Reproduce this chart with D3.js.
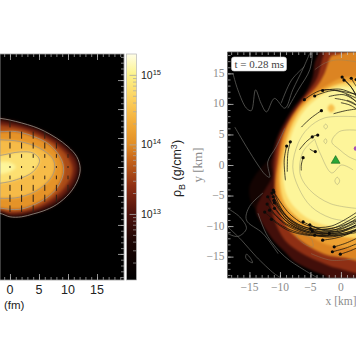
<!DOCTYPE html>
<html>
<head>
<meta charset="utf-8">
<script src="https://d3js.org/d3.v7.min.js"></script>
<style>
  html, body { margin: 0; padding: 0; background: #fff; overflow: hidden; }
  svg { display: block; }
  .domain { display: none; }
</style>
</head>
<body>
<svg id="fig" width="356" height="364"></svg>
<script>
// colormap, log10 of density (g/cm3)
const cmapLogs = [12.05, 12.6, 13.0, 13.4, 13.8, 14.0, 14.3, 14.6, 15.0, 15.3];
const cmapColors = ['#000000', '#1c0503', '#4e120c', '#8e2f14', '#c9681a', '#e28e25', '#f2ab38', '#fbcb58', '#fdf38a', '#fffee8'];
const cbarLabels = [13, 14, 15];

// left panel, x and y in fm
const leftLevels = [12.8, 13.2, 13.6, 14.05, 14.45, 14.8, 15.05];
const leftContours = [
  [[-4, 8.6], [-1.7, 8.4], [0, 8.1], [2, 7.6], [4, 7], [5.7, 6.3], [8, 5], [10, 3.5], [11.5, 1.8], [12.1, -0.2], [11.7, -2.2], [10.3, -4.5], [8, -6.5], [5.7, -7.6], [4, -8.1], [2, -8.6], [0, -8.6], [-1.7, -8], [-4, -7.8]],
  [[-4, 8.1], [-1.7, 7.9], [0, 7.6], [2, 7.1], [4, 6.5], [5.7, 5.8], [8, 4.5], [9.6, 3.1], [11, 1.5], [11.5, -0.2], [11.1, -2], [9.8, -4.2], [7.7, -6], [5.5, -7.1], [4, -7.6], [2, -8.1], [0, -8.2], [-1.7, -7.6], [-4, -7.4]],
  [[-4, 7.4], [-1.7, 7.2], [0, 7], [2, 6.6], [4, 5.9], [6, 5], [8, 3.8], [9.5, 2.4], [10.4, 1], [10.8, -0.3], [10.4, -2], [9.2, -3.8], [7.3, -5.5], [5.3, -6.7], [3, -7.5], [0, -7.8], [-1.7, -7.4], [-4, -7.1]],
  [[-4, 6.2], [-1.7, 6.1], [1.15, 6.1], [4, 5.3], [6.9, 3.8], [8.9, 1.2], [9.2, -1.1], [7.8, -4], [5.2, -6], [1.7, -7.3], [-1.7, -7.1], [-4, -6.8]],
  [[-4, 4.8], [-1.7, 4.7], [1.7, 4.4], [5.2, 3.2], [7.5, 1.2], [7.5, -1.1], [5.2, -3.7], [1.7, -5.2], [-1.7, -5.4], [-4, -5.2]],
  [[-4, 1.8], [-1.7, 2], [1.7, 2.6], [4, 2.4], [5.1, 1.2], [4, -0.8], [1.1, -2.2], [-1.7, -2.8], [-4, -2.9]],
  [[-4, 0.9], [-1.7, 0.9], [0, 0.8], [1, 0], [0, -0.8], [-1.7, -1.2], [-4, -1.2]]
];
const leftLines = [0, 3, 4, 5]; // which contours carry a grey line
const vecColumns = [0, 2, 4, 6, 8, 10];
const vecRows = [7.4, 5.5, 3.7, 1.9, 0, -1.8, -3.6, -5.4, -7.2];
const vecHalfLen = [0.5, 0.55, 0.45, 0.25, 0.1, 0.25, 0.45, 0.55, 0.5];

// right panel, x and y in km
const rightLevels = [12.45, 12.9, 13.4, 13.95, 14.2, 14.75, 15.05];
const rightContours = [
  [[-11.1, 1.1], [-15, -3.6], [-13.9, -7.4], [-11.1, -7.9]],
  [[-3, 20], [-3.5, 18.5], [-4.3, 16.7], [-4.6, 14.5], [-5.7, 12], [-7.6, 9.6], [-9.2, 7.1], [-10.6, 4.1], [-11.4, 0.3], [-11.3, -1.9], [-13.1, -5.2], [-13.9, -7.4], [-12.8, -9.8], [-11.1, -12.3], [-9.2, -14.2], [-7.6, -15.8], [-4.9, -17.2], [-2.1, -18.5], [-1.5, -20], [5, -20], [5, 20]],
  [[-2.5, 20], [-2.7, 18.5], [-3.1, 17.2], [-3.8, 14.5], [-4.9, 12.6], [-6.8, 10.1], [-8.4, 7.7], [-10.1, 4.4], [-10.9, 0.3], [-11, -3.6], [-11.4, -6.3], [-10.9, -9], [-9.2, -12.3], [-6.5, -14.4], [-3.8, -15.7], [-0.5, -16.9], [5, -17.2], [5, 20]],
  [[-1, 18], [-1.6, 17.8], [-2.7, 15], [-4, 12.8], [-6, 10.7], [-7.9, 8.2], [-9.5, 4.9], [-10.4, 0.3], [-10.8, -3.6], [-10.3, -6.8], [-8.7, -10.4], [-6, -12.8], [-2.7, -14.6], [0.6, -15.2], [5, -15.5], [5, 18]],
  [[5, 14.5], [2.5, 14.5], [0, 14.2], [-2.7, 12.8], [-5.1, 11.2], [-7.3, 8.7], [-9, 5.5], [-10.1, 0.8], [-10.4, -3], [-9.8, -6.3], [-7.9, -9], [-5.1, -11.6], [-2.1, -13.1], [2.5, -13.7], [5, -13.8]],
  [[5, 13.6], [2.5, 13.6], [0, 13.4], [-2.7, 12.3], [-4.9, 10.9], [-7, 8.5], [-8.6, 5.2], [-9.7, 0.8], [-10, -3], [-9.2, -6.3], [-7, -8.7], [-3.8, -10.7], [-0.5, -11.6], [2.5, -12], [5, -12.1]],
  [[5, 12.9], [2.5, 12.8], [0, 12.8], [-2.7, 11.7], [-5.1, 9.9], [-7, 7.5], [-8.3, 4.4], [-9.2, 0.6], [-9.4, -3], [-8.4, -5.9], [-5.8, -8.5], [-2.1, -10], [2.5, -10.6], [5, -10.7]]
];
const hotSpot = [[-1.6, 10], [-1, 9.3], [-1.6, 8.6], [-2.2, 9.3]];
const hotSpotLevel = 14.5;

const darkLines = [
  [[-17.7, 15], [-16.9, 12.3], [-15.5, 9.3], [-14.7, 8.9], [-14, 12.3], [-13.1, 10.1], [-12.2, 8.7], [-10.9, 10.9], [-9.2, 9.3], [-7.9, 12.3], [-6.2, 15.8], [-5.1, 18.3]],
  [[-6, 16.1], [-8.1, 13.9], [-9.8, 10.1]],
  [[-4.6, 18.9], [-5.1, 15.6], [-7, 12.3], [-8.7, 9.3]],
  [[-17.4, 6.2], [-15.5, 3], [-13.6, 0], [-12.4, -1.6], [-11.7, -2], [-12, 0.5], [-10.6, 3], [-9.2, 6]],
  [[-18.6, -7.1], [-16.6, -8.5], [-15.5, -10.4], [-16.9, -11.7], [-18.6, -11.2]],
  [[-18.6, -10.1], [-16.3, -12.3], [-13.9, -15], [-10.9, -17.8], [-9.8, -18.5]],
  [[-13.6, -7.9], [-12, -11.7], [-9.2, -15], [-6, -17.2], [-3.8, -18.5]],
  [[-12.8, -4.6], [-15, -6.8], [-15.5, -9], [-12.8, -11.2], [-10.3, -14.5]]
];
const darkLoops = [
  [[-15.5, -14.6], [-14.8, -15.3], [-14.5, -16], [-15, -15.8], [-15.6, -15.2]]
];
const paleLines = [
  [[-4.9, -14.5], [-1.6, -15.6], [2.5, -15.3]],
  [[-4.3, 15.6], [-2.6, 16.7], [-0.7, 17.2], [2.5, 16.9]],
  [[2.5, 7.9], [-2.7, 7.7], [-5.4, 6], [-7, 3.6], [-7.9, -0.3], [-7, -3.6], [-4.9, -6.8], [-1.6, -8.7], [2.5, -9.3]],
  [[-4.3, 4.2], [-6.2, 2.2], [-6.7, -1.4], [-5.1, -4.1], [-1.8, -6.3], [2.5, -7.1]],
  [[-4.3, 4.2], [-3.4, 1.9], [-1.5, -1.3], [0.1, 0], [2, -0.8]],
  [[2.5, 5.7], [-0.2, 5.5], [-1.5, 3.8], [-0.2, 2.5], [1.2, 1.4], [2.5, 0.8]]
];
const paleLoops = [
  [[-7.3, -11.5], [-6.2, -12.8], [-4.6, -13.4], [-5, -11.9]],
  [[-0.6, -2], [-0.2, -2.6], [-0.6, -3.2], [-1, -2.6]],
  [[-2.5, 6.7], [-2.2, 6.3], [-2.5, 5.9], [-2.8, 6.3]],
  [[-2.5, 4.3], [-2.3, 3.9], [-2.5, 3.5], [-2.8, 3.9]]
];

// tracer tails, the first point of each is the tracer itself
const tracers = [
  [[-3.2, 8.9], [-4.9, 7.7], [-6.5, 6.2]],
  [[-8.3, 3.8], [-8.7, 1.9], [-8.8, -1.1]],
  [[-8.9, 3.1], [-9.3, 0.8], [-9.1, -2.5]],
  [[-4.7, 4.6], [-5.7, 3.8], [-6.8, 2.5]],
  [[-3.8, 4.9], [-4.3, 4.8], [-4.7, 4.6]],
  [[-4.2, 2.2], [-4.6, 2.3], [-5.1, 2.6]],
  [[-6.2, 1.2], [-6.5, 0], [-6.5, -0.9]],
  [[-6, 10.7], [-3, 12.3], [2.8, 11.5]],
  [[-4.3, 11.3], [-1, 12.2], [2.8, 10.8]],
  [[-3, 12.2], [0, 12.4], [2.8, 11.3]],
  [[0.2, 14.4], [1.5, 13], [2.8, 11]],
  [[0.5, 13.9], [1.8, 12.6], [2.8, 10.5]],
  [[1.7, 14.2], [2.3, 13.2], [2.8, 12.5]],
  [[2.5, 14], [2.7, 13.5], [2.9, 13]],
  [[-11.1, -4.1], [-8.9, -8.5], [-5.1, -10.7], [-1.3, -10.9], [2.8, -9.3]],
  [[-11.3, -4.6], [-8.9, -8.9], [-5, -11], [-1, -11.2], [2.8, -10]],
  [[-12, -5.2], [-9.2, -9], [-5.1, -11.2], [-1, -11.4], [2.8, -10.6]],
  [[-10.9, -6.2], [-8.5, -9.2], [-5, -10.7], [-1, -10.6], [2.8, -8.6]],
  [[-12.1, -6.4], [-9.3, -9.6], [-5, -11.4], [-1.2, -11.6], [2.8, -11]],
  [[-10.9, -7.1], [-8.2, -9.8], [-4.8, -11], [-1, -11], [2.8, -9.8]],
  [[-12.5, -7.7], [-9.6, -10], [-6, -11.3], [-2.5, -11.6]],
  [[-11.4, -8.9], [-8.7, -10.7], [-5.5, -11.5], [-2, -11.6]],
  [[-11.1, -5.2], [-8.6, -8.6], [-5.2, -10.4], [-1.5, -10.4], [2.8, -8.2]],
  [[-11.7, -7.4], [-9, -9.6], [-5.6, -11], [-2, -11.2]],
  [[-11, -4.4], [-8.4, -8], [-5.2, -10], [-1.6, -10], [2.8, -7.6]],
  [[-11, -5.8], [-8.3, -9], [-5, -10.4], [-1.2, -10.3], [2.8, -8.9]],
  [[-6.2, -9.3], [-3, -10.6], [0, -10.4], [2.8, -9]],
  [[-5.1, -9.8], [-2.5, -10.8], [0, -10.8], [2.8, -9.7]],
  [[-5, -10.4], [-2.5, -11.2], [0.2, -11.2], [2.8, -10.4]],
  [[-4.7, -10.8], [-2.5, -11.5], [0.2, -11.4], [2.8, -10.7]],
  [[-4.3, -11.5], [-2, -11.8], [0.5, -11.4], [2.8, -10.6]],
  [[-3, -12.3], [-1, -12], [1, -11.4], [2.8, -10.4]],
  [[-1.9, -11.2], [0, -11], [2.8, -9.6]],
  [[-1.1, -13.4], [0.8, -12.8], [2.8, -11.9]],
  [[-1.4, -14.2], [0.8, -13.6], [2.8, -12.8]],
  [[-0.1, -14.6], [1.4, -14.1], [2.8, -13.5]]
];
const streaks = [
  [[-1, 10.9], [1, 10.5], [2.8, 9.6]],
  [[0, 10.2], [1.5, 9.8], [2.8, 9]],
  [[-2, 11.2], [0.5, 11.5], [2.8, 10.2]],
  [[-1.2, 8.4], [0.8, 8.9], [2.8, 9.2]],
  [[0.8, 11.6], [1.8, 11], [2.8, 10]],
  [[1, 10.6], [2, 10.2], [2.8, 9.6]]
];
const centreMark = [-0.87, 0.7];
const secondMark = [2.46, 2.7];

const xTicksLeft = [0, 5, 10, 15];
const xTicksRight = [-15, -10, -5, 0];
const yTicksRight = [-15, -10, -5, 0, 5, 10, 15];

const svg = d3.select('#fig');
const defs = svg.append('defs');
const cmap = d3.scaleLinear().domain(cmapLogs).range(cmapColors);

function blur(id, dev) {
  defs.append('filter').attr('id', id)
    .attr('color-interpolation-filters', 'sRGB')
    .attr('x', '-10%').attr('y', '-10%').attr('width', '120%').attr('height', '120%')
    .append('feGaussianBlur').attr('stdDeviation', dev);
}
blur('blurLeft', 1.6);
blur('blurRight', 0.8);
blur('soft', 0.4);

function panel(id, left, top, width, height) {
  defs.append('clipPath').attr('id', id).append('rect').attr('width', width).attr('height', height);
  return svg.append('g').attr('transform', `translate(${left}, ${top})`);
}
function inward(g, axis, scale, major, minor, majorLen, color) {
  // minor then major ticks, pointing into the frame
  g.append('g').call(axis(scale).tickValues(minor).tickSize(majorLen / 2).tickFormat(''))
    .selectAll('line').attr('stroke', color).attr('stroke-width', 0.7);
  g.append('g').call(axis(scale).tickValues(major).tickSize(majorLen).tickFormat(''))
    .selectAll('line').attr('stroke', color).attr('stroke-width', 0.8);
}

// ---- left panel ----
const leftW = 124, leftH = 226;
const xl = d3.scaleLinear().domain([-1.72, 19.65]).range([0, leftW]);
const yl = d3.scaleLinear().domain([19.5, -19.5]).range([0, leftH]);
const gl = panel('clipLeft', 0, 54, leftW, leftH);
const lineL = d3.line().x(d => xl(d[0])).y(d => yl(d[1])).curve(d3.curveCatmullRomClosed);

const plotL = gl.append('g').attr('clip-path', 'url(#clipLeft)');
plotL.append('rect').attr('width', leftW).attr('height', leftH).attr('fill', '#000');
plotL.append('g').attr('filter', 'url(#blurLeft)')
  .selectAll('path').data(leftContours).join('path')
  .attr('d', lineL)
  .attr('fill', (d, i) => cmap(leftLevels[i]));
plotL.append('g').attr('filter', 'url(#soft)')
  .selectAll('path').data(leftLines).join('path')
  .attr('d', i => lineL(leftContours[i]))
  .attr('fill', 'none')
  .attr('stroke', '#9c948a')
  .attr('stroke-width', 0.8);

const vecs = [];
vecColumns.forEach(x => vecRows.forEach((y, r) => {
  if (d3.polygonContains(leftContours[1], [x, y])) vecs.push({x: x, y: y, h: vecHalfLen[r]});
}));
plotL.append('g').attr('filter', 'url(#soft)')
  .selectAll('line').data(vecs).join('line')
  .attr('x1', d => xl(d.x)).attr('x2', d => xl(d.x))
  .attr('y1', d => yl(d.y + d.h)).attr('y2', d => yl(d.y - d.h))
  .attr('stroke', '#2e2016')
  .attr('stroke-width', 1)
  .attr('stroke-linecap', 'round');

const minorL = d3.range(-1, 20);
const majorL = [0, 5, 10, 15];
const minorY = d3.range(-19, 20);
const majorY = [-15, -10, -5, 0, 5, 10, 15];
inward(gl, d3.axisBottom, xl, majorL, minorL, 6, '#b8b8b8');
inward(gl.append('g').attr('transform', `translate(0, ${leftH})`), d3.axisTop, xl, majorL, minorL, 6, '#b8b8b8');
inward(gl.append('g').attr('transform', `translate(${leftW}, 0)`), d3.axisLeft, yl, majorY, minorY, 6, '#b8b8b8');
gl.append('rect').attr('width', leftW).attr('height', leftH)
  .attr('fill', 'none').attr('stroke', '#9a9a9a').attr('stroke-width', 0.8);

gl.selectAll('.xlab').data(xTicksLeft).join('text')
  .attr('x', d => xl(d)).attr('y', leftH + 14)
  .attr('text-anchor', 'middle')
  .style('font', '12.5px "Liberation Sans", sans-serif')
  .attr('fill', '#222')
  .text(d => d);
gl.append('text').attr('x', 4).attr('y', leftH + 28.5)
  .style('font', '11.5px "Liberation Sans", sans-serif')
  .attr('fill', '#222')
  .text('(fm)');

// ---- colour bar ----
const cbH = 226, cbW = 10;
const cb = d3.scaleLog().domain([Math.pow(10, 12.05), Math.pow(10, 15.3)]).range([cbH, 0]);
const grad = defs.append('linearGradient').attr('id', 'cbarFill')
  .attr('x1', 0).attr('x2', 0).attr('y1', 1).attr('y2', 0);
grad.selectAll('stop').data(cmapLogs).join('stop')
  .attr('offset', d => 1 - cb(Math.pow(10, d)) / cbH)
  .attr('stop-color', d => cmap(d));
const gc = svg.append('g').attr('transform', 'translate(126.5, 54)');
gc.append('rect').attr('width', cbW).attr('height', cbH).attr('fill', 'url(#cbarFill)')
  .attr('stroke', '#b5b5b5').attr('stroke-width', 0.7);
const cbMajor = cbarLabels.map(d => Math.pow(10, d));
const cbAxis = gc.append('g').attr('transform', `translate(${cbW}, 0)`);
inward(cbAxis, d3.axisLeft, cb, cbMajor, cb.ticks().filter(d => !cbMajor.includes(d)), 7, '#a8a8a8');

const cbLab = gc.selectAll('.cblab').data(cbarLabels).join('text')
  .attr('x', cbW + 4.5)
  .attr('y', d => cb(Math.pow(10, d)) + 4)
  .style('font', '10.5px "Liberation Sans", sans-serif')
  .attr('fill', '#222');
cbLab.append('tspan').text('10');
cbLab.append('tspan').attr('dy', -4).style('font-size', '7.5px').text(d => d);

const rhoLabel = svg.append('text')
  .attr('transform', 'translate(181, 197) rotate(-90)')
  .style('font', '12.5px "Liberation Sans", sans-serif')
  .attr('fill', '#222');
rhoLabel.append('tspan').text('ρ');
rhoLabel.append('tspan').attr('dy', 3.5).style('font-size', '9px').text('B');
rhoLabel.append('tspan').attr('dy', -3.5).text(' (g/cm');
rhoLabel.append('tspan').attr('dy', -4).style('font-size', '9px').text('3');
rhoLabel.append('tspan').attr('dy', 4).text(')');

// ---- right panel ----
const rightW = 130, rightH = 226;
const xr = d3.scaleLinear().domain([-18.6, 2.72]).range([0, rightW]);
const yr = d3.scaleLinear().domain([18.5, -18.5]).range([0, rightH]);
const gr = panel('clipRight', 227.5, 52, rightW, rightH);
const plotR = gr.append('g').attr('clip-path', 'url(#clipRight)');
const lineR = d3.line().x(d => xr(d[0])).y(d => yr(d[1])).curve(d3.curveCatmullRom);
const loopR = d3.line().x(d => xr(d[0])).y(d => yr(d[1])).curve(d3.curveCatmullRomClosed);

plotR.append('rect').attr('width', rightW).attr('height', rightH).attr('fill', '#000');
const fills = plotR.append('g').attr('filter', 'url(#blurRight)');
fills.selectAll('path').data(rightContours).join('path')
  .attr('d', loopR)
  .attr('fill', (d, i) => cmap(rightLevels[i]));
fills.append('path').datum(hotSpot).attr('d', loopR).attr('fill', cmap(hotSpotLevel));

const darkG = plotR.append('g').attr('filter', 'url(#soft)')
  .attr('fill', 'none').attr('stroke', '#6a6a66').attr('stroke-width', 0.7);
darkG.selectAll('.open').data(darkLines).join('path').attr('class', 'open').attr('d', lineR);
darkG.selectAll('.loop').data(darkLoops).join('path').attr('class', 'loop').attr('d', loopR);
const paleG = plotR.append('g').attr('filter', 'url(#soft)')
  .attr('fill', 'none').attr('stroke', '#8a8a70').attr('stroke-opacity', 0.55).attr('stroke-width', 0.7);
paleG.selectAll('.open').data(paleLines).join('path').attr('class', 'open').attr('d', lineR);
paleG.selectAll('.loop').data(paleLoops).join('path').attr('class', 'loop').attr('d', loopR);

const tracks = plotR.append('g').attr('filter', 'url(#soft)');
tracks.selectAll('.tail').data(tracers.concat(streaks)).join('path')
  .attr('class', 'tail')
  .attr('d', lineR)
  .attr('fill', 'none')
  .attr('stroke', '#16120c')
  .attr('stroke-opacity', 0.85)
  .attr('stroke-width', 0.9);
tracks.selectAll('circle').data(tracers).join('circle')
  .attr('cx', d => xr(d[0][0]))
  .attr('cy', d => yr(d[0][1]))
  .attr('r', 1.6)
  .attr('fill', '#0c0a08');

plotR.append('circle')
  .attr('cx', xr(secondMark[0])).attr('cy', yr(secondMark[1])).attr('r', 2.2)
  .attr('fill', '#a64fb5');
plotR.append('path')
  .attr('d', d3.symbol(d3.symbolTriangle, 34)())
  .attr('transform', `translate(${xr(centreMark[0])}, ${yr(centreMark[1])})`)
  .attr('fill', '#2aa637')
  .attr('stroke', '#14641e')
  .attr('stroke-width', 0.6);

const minorR = d3.range(-18, 3);
const majorR = [-15, -10, -5, 0];
const minorRY = d3.range(-18, 19);
inward(gr, d3.axisBottom, xr, majorR, minorR, 6, '#c4c4c4');
inward(gr.append('g').attr('transform', `translate(0, ${rightH})`), d3.axisTop, xr, majorR, minorR, 6, '#c4c4c4');
inward(gr, d3.axisRight, yr, majorY, minorRY, 6, '#c4c4c4');
gr.append('path').attr('d', d3.line()([[rightW + 5, 0], [0, 0], [0, rightH], [rightW + 5, rightH]]))
  .attr('fill', 'none').attr('stroke', '#555').attr('stroke-width', 0.8);

// time label
gr.append('rect').attr('x', 4).attr('y', 5).attr('width', 55).attr('height', 14).attr('rx', 2.5)
  .attr('fill', '#fff').attr('stroke', '#d0d0d0').attr('stroke-width', 0.6);
gr.append('text').attr('x', 7).attr('y', 15.5)
  .style('font', '11px "Liberation Serif", serif')
  .attr('fill', '#444')
  .text('t = 0.28 ms');

const fmt = d => String(d).replace('-', '−');
gr.selectAll('.xr').data(xTicksRight).join('text')
  .attr('x', d => xr(d)).attr('y', rightH + 13)
  .attr('text-anchor', 'middle')
  .style('font', '11.5px "Liberation Serif", serif')
  .attr('fill', '#8c8c8c')
  .text(fmt);
gr.selectAll('.yr').data(yTicksRight).join('text')
  .attr('x', -3).attr('y', d => yr(d) + 3.5)
  .attr('text-anchor', 'end')
  .style('font', '11.5px "Liberation Serif", serif')
  .attr('fill', '#8c8c8c')
  .text(fmt);
gr.append('text').attr('x', 98).attr('y', rightH + 27)
  .style('font', '11.5px "Liberation Serif", serif')
  .attr('fill', '#8c8c8c')
  .text('x [km]');
gr.append('text')
  .attr('transform', `translate(-26, ${yr(0)}) rotate(-90)`)
  .attr('text-anchor', 'middle')
  .style('font', '13px "Liberation Serif", serif')
  .attr('fill', '#8c8c8c')
  .text('y [km]');
</script>
</body>
</html>
